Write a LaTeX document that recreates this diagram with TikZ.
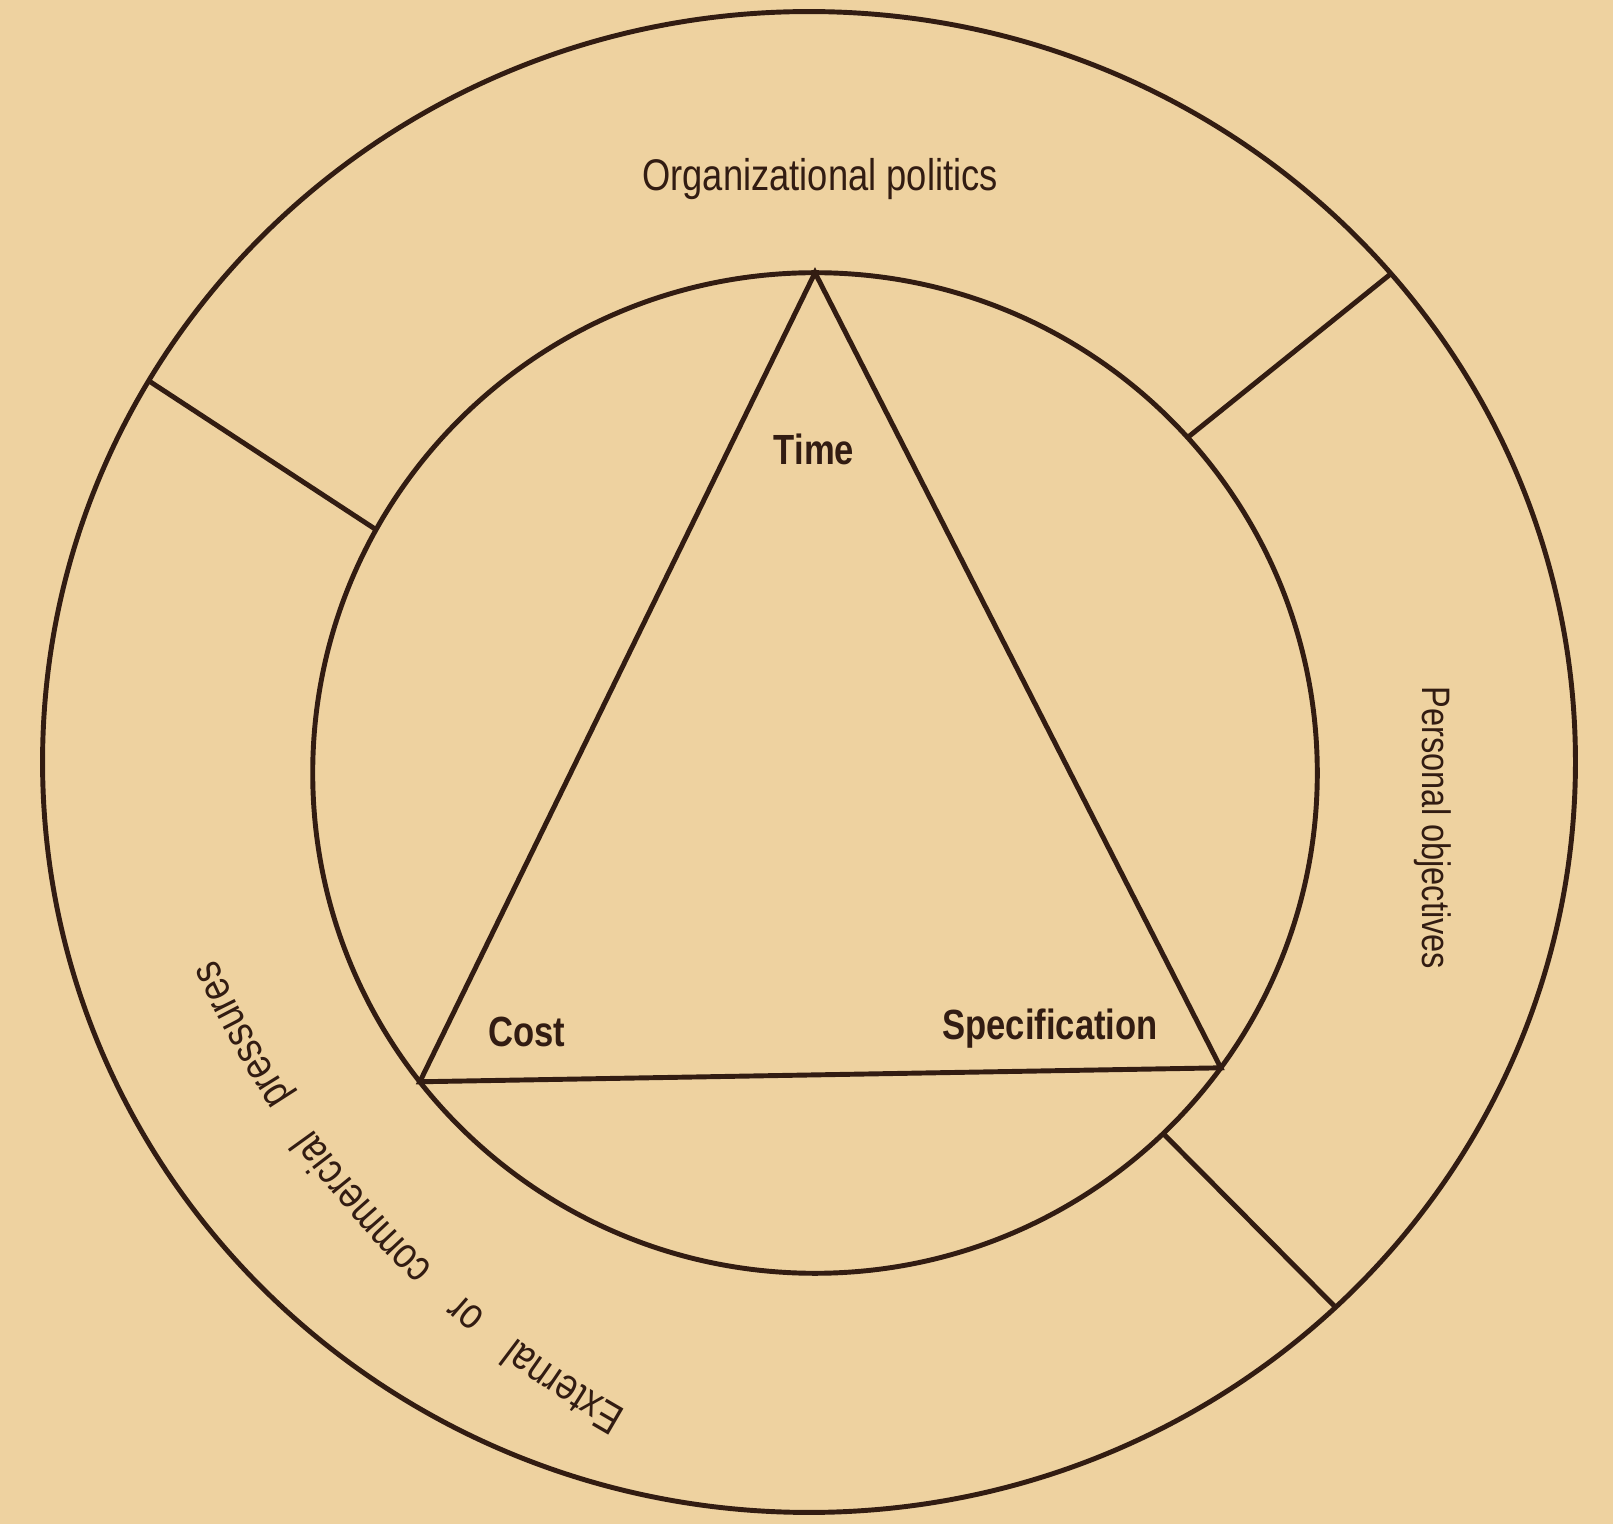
\documentclass[tikz,border=0pt]{standalone}
\usepackage{fontspec}
\setmainfont{Liberation Sans}[FakeStretch=0.82]
\usetikzlibrary{shapes.geometric,decorations.text}
\definecolor{paper}{RGB}{238,210,160}
\definecolor{ink}{RGB}{50,28,18}

\begin{document}
\begin{tikzpicture}[
    x=0.01cm, y=0.01cm,
    ring/.style={draw=ink, ellipse, line width=1.4pt, inner sep=0pt, outer sep=0pt},
    spoke/.style={draw=ink, line width=1.4pt},
    ringlabel/.style={text=ink, inner sep=0pt, font=\fontsize{11.3}{13}\selectfont},
    cornerlabel/.style={text=ink, inner sep=0pt, font=\bfseries\fontsize{12}{14}\selectfont}
]
\fill[paper] (0,0) rectangle (1613,1524);
\useasboundingbox (0,0) rectangle (1613,1524);

\node[ring, minimum width=15.32cm, minimum height=15cm] (outer) at (809,762) {};
\node[ring, minimum width=10.04cm, minimum height=10cm] (inner) at (815,751) {};

% triangle
\draw[spoke] (inner.90) -- (inner.218) -- (inner.-36.6) -- cycle;

% dividers of the ring
\draw[spoke] (inner.151) -- (outer.150.5);
\draw[spoke] (inner.42) -- (outer.40.4);
\draw[spoke] (inner.-46) -- (outer.-46);

\node[ringlabel, font=\fontsize{12.6}{14}\selectfont] (politics) at (820,1345) {Organizational politics};
\node[ringlabel, rotate=-90] (personal) at (1433,696) {Personal objectives};
\coordinate (bend) at (1106,961);
\path[decorate, decoration={text along path, text align={fit to path stretching spaces},
    text={|\fontsize{12.5}{14}\selectfont\color{ink}|External or commercial pressures}}]
    ([shift={(240.5:974)}]bend) arc[start angle=240.5, end angle=204, radius=974];

\node[cornerlabel] (time) at (814,1075) {Time};
\node[cornerlabel] (cost) at (527,492) {Cost};
\node[cornerlabel] (spec) at (1050,495) {Specification};
\end{tikzpicture}
\end{document}
